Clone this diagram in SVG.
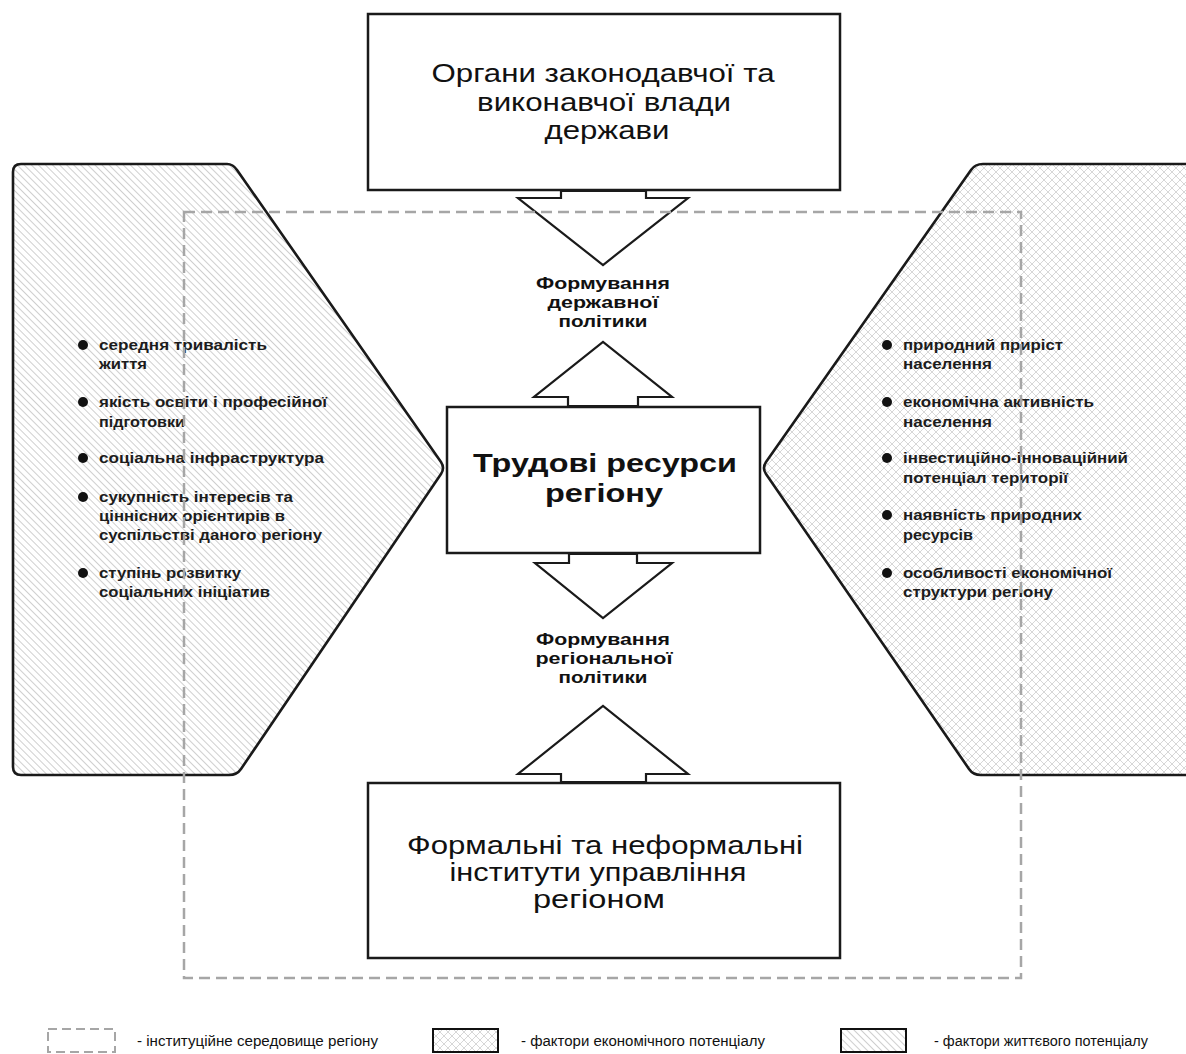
<svg xmlns="http://www.w3.org/2000/svg" width="1186" height="1054" viewBox="0 0 1186 1054">
<style>
.box{fill:#fff;stroke:#1a1a1a;stroke-width:2.5}
.arr{fill:#fff;stroke:#1a1a1a;stroke-width:2.2;stroke-linejoin:miter}
.shape{stroke:#1a1a1a;stroke-width:2.6;stroke-linejoin:round}
.env{fill:none;stroke:#a6a6a6;stroke-width:2.5;stroke-dasharray:11 6}
.t{font-family:"Liberation Sans",Arial,sans-serif;fill:#111}
.big{font-size:26px;text-anchor:middle}
.ctr{font-size:26px;font-weight:bold;text-anchor:middle}
.lab{font-size:17px;font-weight:bold;text-anchor:middle}
.bot{font-size:25px;text-anchor:middle}
.it{font-size:15.5px;font-weight:bold;fill:#1c1c1c}
.leg{font-size:14px}
.dot{fill:#111}
</style>
<defs>
<pattern id="diag" width="5" height="5" patternUnits="userSpaceOnUse" patternTransform="rotate(-45)">
<rect width="5" height="5" fill="#fff"/>
<line x1="0" y1="0" x2="0" y2="5" stroke="#c0c0c0" stroke-width="1.5"/>
</pattern>
<pattern id="cross" width="8" height="8" patternUnits="userSpaceOnUse">
<rect width="8" height="8" fill="#fff"/>
<path d="M0,0 L8,8 M8,0 L0,8" stroke="#cdcdcd" stroke-width="0.8"/>
</pattern>
</defs>
<rect width="1186" height="1054" fill="#fff"/>

<g id="life-factors">
<path class="shape" fill="url(#diag)" d="M13,172 Q13,164 21,164 L227,164 Q233,164 237,170 L441,462 Q445,468 441,474 L241,769 Q237,775 229,775 L21,775 Q13,775 13,767 Z"/>
<circle class="dot" cx="83" cy="345" r="5"/>
<text class="t it" x="99" y="350" textLength="168" lengthAdjust="spacingAndGlyphs">середня тривалість</text>
<text class="t it" x="99" y="369" textLength="48" lengthAdjust="spacingAndGlyphs">життя</text>
<circle class="dot" cx="83" cy="402" r="5"/>
<text class="t it" x="99" y="407" textLength="228" lengthAdjust="spacingAndGlyphs">якість освіти і професійної</text>
<text class="t it" x="99" y="427" textLength="86" lengthAdjust="spacingAndGlyphs">підготовки</text>
<circle class="dot" cx="83" cy="458" r="5"/>
<text class="t it" x="99" y="463" textLength="225" lengthAdjust="spacingAndGlyphs">соціальна інфраструктура</text>
<circle class="dot" cx="83" cy="497" r="5"/>
<text class="t it" x="99" y="502" textLength="194" lengthAdjust="spacingAndGlyphs">сукупність інтересів та</text>
<text class="t it" x="99" y="521" textLength="186" lengthAdjust="spacingAndGlyphs">ціннісних орієнтирів в</text>
<text class="t it" x="99" y="540" textLength="223" lengthAdjust="spacingAndGlyphs">суспільстві даного регіону</text>
<circle class="dot" cx="83" cy="573" r="5"/>
<text class="t it" x="99" y="578" textLength="142" lengthAdjust="spacingAndGlyphs">ступінь розвитку</text>
<text class="t it" x="99" y="597" textLength="171" lengthAdjust="spacingAndGlyphs">соціальних ініціатив</text>
</g>

<g id="economic-factors">
<path class="shape" fill="url(#cross)" d="M1192,164 L983,164 Q975,164 971,170 L766,462 Q762,468 766,474 L969,769 Q973,775 981,775 L1192,775 Z"/>
<circle class="dot" cx="887" cy="345" r="5"/>
<text class="t it" x="903" y="350" textLength="160" lengthAdjust="spacingAndGlyphs">природний приріст</text>
<text class="t it" x="903" y="369" textLength="89" lengthAdjust="spacingAndGlyphs">населення</text>
<circle class="dot" cx="887" cy="402" r="5"/>
<text class="t it" x="903" y="407" textLength="191" lengthAdjust="spacingAndGlyphs">економічна активність</text>
<text class="t it" x="903" y="427" textLength="89" lengthAdjust="spacingAndGlyphs">населення</text>
<circle class="dot" cx="887" cy="458" r="5"/>
<text class="t it" x="903" y="463" textLength="225" lengthAdjust="spacingAndGlyphs">інвестиційно-інноваційний</text>
<text class="t it" x="903" y="483" textLength="165" lengthAdjust="spacingAndGlyphs">потенціал території</text>
<circle class="dot" cx="887" cy="515" r="5"/>
<text class="t it" x="903" y="520" textLength="179" lengthAdjust="spacingAndGlyphs">наявність природних</text>
<text class="t it" x="903" y="540" textLength="70" lengthAdjust="spacingAndGlyphs">ресурсів</text>
<circle class="dot" cx="887" cy="573" r="5"/>
<text class="t it" x="903" y="578" textLength="209" lengthAdjust="spacingAndGlyphs">особливості економічної</text>
<text class="t it" x="903" y="597" textLength="150" lengthAdjust="spacingAndGlyphs">структури регіону</text>
</g>

<g id="state-bodies">
<rect class="box" x="368" y="14" width="472" height="176"/>
<text class="t big" x="603" y="82" textLength="343" lengthAdjust="spacingAndGlyphs">Органи законодавчої та</text>
<text class="t big" x="604" y="111" textLength="254" lengthAdjust="spacingAndGlyphs">виконавчої влади</text>
<text class="t big" x="607" y="139" textLength="125" lengthAdjust="spacingAndGlyphs">держави</text>
</g>

<g id="labor-resources">
<rect class="box" x="447" y="407" width="313" height="146"/>
<text class="t ctr" x="605" y="472" textLength="264" lengthAdjust="spacingAndGlyphs">Трудові ресурси</text>
<text class="t ctr" x="604" y="502" textLength="118" lengthAdjust="spacingAndGlyphs">регіону</text>
</g>

<g id="institutions">
<rect class="box" x="368" y="783" width="472" height="175"/>
<text class="t bot" x="605" y="854" textLength="396" lengthAdjust="spacingAndGlyphs">Формальні та неформальні</text>
<text class="t bot" x="598" y="881" textLength="297" lengthAdjust="spacingAndGlyphs">інститути управління</text>
<text class="t bot" x="599" y="908" textLength="132" lengthAdjust="spacingAndGlyphs">регіоном</text>
</g>

<g id="connectors">
<polygon class="arr" points="561,191 561,198 518,198 603,265 688,198 646,198 646,191"/>
<polygon class="arr" points="568,406 568,397 534,397 603,342 672,397 638,397 638,406"/>
<polygon class="arr" points="569,554 569,563 535,563 603,618 672,563 637,563 637,554"/>
<polygon class="arr" points="561,782 561,774 518,774 603,706 688,774 646,774 646,782"/>
<g id="label-state">
<text class="t lab" x="603" y="289" textLength="134" lengthAdjust="spacingAndGlyphs">Формування</text>
<text class="t lab" x="603" y="308" textLength="111" lengthAdjust="spacingAndGlyphs">державної</text>
<text class="t lab" x="603" y="327" textLength="89" lengthAdjust="spacingAndGlyphs">політики</text>
</g>
<g id="label-region">
<text class="t lab" x="603" y="645" textLength="134" lengthAdjust="spacingAndGlyphs">Формування</text>
<text class="t lab" x="604" y="664" textLength="137" lengthAdjust="spacingAndGlyphs">регіональної</text>
<text class="t lab" x="603" y="683" textLength="89" lengthAdjust="spacingAndGlyphs">політики</text>
</g>
</g>

<g id="institutional-environment">
<rect class="env" x="184" y="212" width="837" height="766"/>
</g>

<g id="legend">
<rect x="48" y="1029" width="67" height="23" fill="none" stroke="#a6a6a6" stroke-width="2" stroke-dasharray="9 5"/>
<text class="t leg" x="137" y="1046" textLength="241" lengthAdjust="spacingAndGlyphs">- інституційне середовище регіону</text>
<rect x="433" y="1029" width="65" height="23" fill="url(#cross)" stroke="#111" stroke-width="2"/>
<text class="t leg" x="521" y="1046" textLength="244" lengthAdjust="spacingAndGlyphs">- фактори економічного потенціалу</text>
<rect x="841" y="1029" width="65" height="23" fill="url(#diag)" stroke="#111" stroke-width="2"/>
<text class="t leg" x="934" y="1046" textLength="214" lengthAdjust="spacingAndGlyphs">- фактори життєвого потенціалу</text>
</g>
</svg>
